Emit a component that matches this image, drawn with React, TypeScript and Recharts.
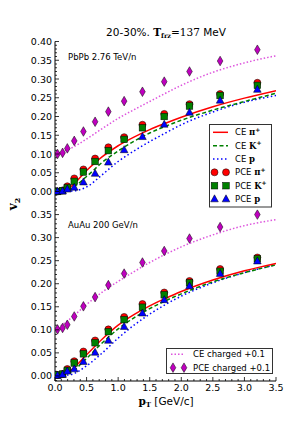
import React from 'react';
import { ComposedChart, Line, Scatter, XAxis, YAxis } from 'recharts';

// pT of the data points (same bins in both panels)
const ptPoints = [0.04, 0.12, 0.195, 0.305, 0.45, 0.635, 0.845, 1.095, 1.385, 1.73, 2.13, 2.615, 3.205];
// pT grid for the CE curves
const ptCurve = [0, 0.25, 0.5, 0.75, 1.0, 1.25, 1.5, 1.75, 2.0, 2.5, 3.0, 3.5];

// PbPb 2.76 TeV/n
const pbPionPCE = [0.0, 0.003, 0.014, 0.035, 0.059, 0.088, 0.118, 0.145, 0.178, 0.207, 0.233, 0.26, 0.29];
const pbKaonPCE = [0.0, 0.002, 0.01, 0.027, 0.052, 0.08, 0.109, 0.139, 0.17, 0.2, 0.228, 0.256, 0.283];
const pbProtonPCE = [0.0, 0.001, 0.006, 0.011, 0.025, 0.048, 0.078, 0.111, 0.146, 0.179, 0.211, 0.243, 0.272];
const pbChargedPCE = [0.1, 0.103, 0.115, 0.135, 0.16, 0.186, 0.213, 0.241, 0.266, 0.293, 0.32, 0.348, 0.378];
const pbPionCE = [0.0, 0.013, 0.056, 0.093, 0.122, 0.145, 0.165, 0.182, 0.198, 0.226, 0.249, 0.269];
const pbKaonCE = [0.0, 0.008, 0.04, 0.078, 0.108, 0.134, 0.156, 0.174, 0.19, 0.217, 0.24, 0.262];
const pbProtonCE = [0.0, 0.001, 0.012, 0.045, 0.08, 0.108, 0.133, 0.156, 0.178, 0.212, 0.238, 0.256];
const pbChargedCE = [0.1, 0.115, 0.14, 0.168, 0.195, 0.218, 0.24, 0.262, 0.283, 0.318, 0.343, 0.362];

// AuAu 200 GeV/n
const auPionPCE = [0.002, 0.004, 0.015, 0.032, 0.053, 0.077, 0.101, 0.128, 0.156, 0.181, 0.206, 0.232, 0.257];
const auKaonPCE = [0.002, 0.004, 0.012, 0.028, 0.048, 0.072, 0.096, 0.122, 0.149, 0.176, 0.202, 0.227, 0.254];
const auProtonPCE = [0.001, 0.003, 0.01, 0.015, 0.031, 0.051, 0.077, 0.107, 0.136, 0.165, 0.195, 0.222, 0.249];
const auChargedPCE = [0.101, 0.104, 0.111, 0.129, 0.151, 0.171, 0.197, 0.222, 0.246, 0.271, 0.298, 0.323, 0.35];
const auPionCE = [0.0, 0.012, 0.046, 0.08, 0.11, 0.133, 0.152, 0.168, 0.183, 0.208, 0.228, 0.244];
const auKaonCE = [0.0, 0.008, 0.038, 0.072, 0.102, 0.126, 0.146, 0.163, 0.178, 0.204, 0.224, 0.241];
const auProtonCE = [0.0, 0.003, 0.022, 0.05, 0.082, 0.11, 0.134, 0.155, 0.173, 0.202, 0.224, 0.241];
const auChargedCE = [0.1, 0.125, 0.155, 0.182, 0.205, 0.226, 0.246, 0.264, 0.28, 0.306, 0.326, 0.339];

// major tick labels
const xMajor = [0.0, 0.5, 1.0, 1.5, 2.0, 2.5, 3.0, 3.5];
const yMajorTop = [0.0, 0.05, 0.1, 0.15, 0.2, 0.25, 0.3, 0.35, 0.4];
const yMajorBottom = [0.0, 0.05, 0.1, 0.15, 0.2, 0.25, 0.3, 0.35];

const SANS = '"DejaVu Sans", sans-serif';
const SERIF = '"DejaVu Serif", serif';

const steps = (from: number, to: number, step: number) => {
  const out: number[] = [];
  for (let v = from; v <= to + 1e-9; v += step) out.push(+v.toFixed(3));
  return out;
};
const xTicks = steps(0, 3.5, 0.1);
const yTicksTop = steps(-0.04, 0.4, 0.01);
const yTicksBottom = steps(-0.01, 0.36, 0.01);

const zip = (xs: number[], ys: number[]) => xs.map((x, i) => ({ x, y: ys[i] }));
const isIn = (list: number[], v: number) => list.some((m) => Math.abs(m - v) < 1e-6);

type Side = 'bottom' | 'top' | 'left' | 'right';

const makeTick = (side: Side, major: number[], showLabels: boolean) => (props: any) => {
  const { x, y, payload } = props;
  const v = payload.value;
  const isMajor = isIn(major, v);
  const len = isMajor ? 4 : 2;
  let line;
  if (side === 'bottom') line = <line x1={x} x2={x} y1={y} y2={y - len} stroke="#000" strokeWidth={0.8} />;
  else if (side === 'top') line = <line x1={x} x2={x} y1={y} y2={y + len} stroke="#000" strokeWidth={0.8} />;
  else if (side === 'left') line = <line x1={x} x2={x + len} y1={y} y2={y} stroke="#000" strokeWidth={0.8} />;
  else line = <line x1={x} x2={x - len} y1={y} y2={y} stroke="#000" strokeWidth={0.8} />;
  let label = null;
  if (showLabels && isMajor) {
    if (side === 'bottom')
      label = (
        <text x={x} y={y + 10} textAnchor="middle" fontSize={9.5} fontFamily={SANS} fill="#000">
          {v.toFixed(1)}
        </text>
      );
    if (side === 'left')
      label = (
        <text x={x - 3} y={y + 3.5} textAnchor="end" fontSize={9.5} fontFamily={SANS} fill="#000">
          {v.toFixed(2)}
        </text>
      );
  }
  return (
    <g>
      {line}
      {label}
    </g>
  );
};

const RedCircle = (p: any) => <circle cx={p.cx} cy={p.cy} r={3.5} fill="#ff0000" stroke="#000" strokeWidth={0.5} />;
const GreenSquare = (p: any) => (
  <rect x={p.cx - 3.3} y={p.cy - 3.3} width={6.6} height={6.6} fill="#008000" stroke="#000" strokeWidth={0.5} />
);
const BlueTriangle = (p: any) => (
  <polygon
    points={`${p.cx},${p.cy - 4.2} ${p.cx + 3.8},${p.cy + 2.8} ${p.cx - 3.8},${p.cy + 2.8}`}
    fill="#0000ff"
    stroke="#000"
    strokeWidth={0.5}
  />
);
const MagentaDiamond = (p: any) => (
  <polygon
    points={`${p.cx},${p.cy - 4.8} ${p.cx + 2.8},${p.cy} ${p.cx},${p.cy + 4.8} ${p.cx - 2.8},${p.cy}`}
    fill="#bf00bf"
    stroke="#000"
    strokeWidth={0.5}
  />
);

interface PanelProps {
  pionCE: number[];
  kaonCE: number[];
  protonCE: number[];
  chargedCE: number[];
  pionPCE: number[];
  kaonPCE: number[];
  protonPCE: number[];
  chargedPCE: number[];
  domain: [number, number];
  yTicks: number[];
  yMajor: number[];
  height: number;
  marginTop: number;
  marginBottom: number;
  xAxisHeight: number;
  showXLabels: boolean;
}

function Panel(p: PanelProps) {
  return (
    <ComposedChart
      width={306}
      height={p.height}
      margin={{ top: p.marginTop, right: 30, left: 0, bottom: p.marginBottom }}
    >
      <XAxis
        xAxisId={0}
        type="number"
        dataKey="x"
        domain={[0, 3.5]}
        allowDataOverflow
        ticks={xTicks}
        interval={0}
        height={p.xAxisHeight}
        tickSize={0}
        tickMargin={0}
        tickLine={false}
        axisLine={{ stroke: '#000', strokeWidth: 1 }}
        tick={makeTick('bottom', xMajor, p.showXLabels)}
      />
      <XAxis
        xAxisId="t"
        orientation="top"
        type="number"
        dataKey="x"
        domain={[0, 3.5]}
        allowDataOverflow
        ticks={xTicks}
        interval={0}
        height={0}
        tickSize={0}
        tickMargin={0}
        tickLine={false}
        axisLine={{ stroke: '#000', strokeWidth: 1 }}
        tick={makeTick('top', xMajor, false)}
      />
      <YAxis
        yAxisId={0}
        type="number"
        dataKey="y"
        domain={p.domain}
        allowDataOverflow
        ticks={p.yTicks}
        interval={0}
        width={55}
        tickSize={0}
        tickMargin={0}
        tickLine={false}
        axisLine={{ stroke: '#000', strokeWidth: 1 }}
        tick={makeTick('left', p.yMajor, true)}
      />
      <YAxis
        yAxisId="r"
        orientation="right"
        type="number"
        dataKey="y"
        domain={p.domain}
        allowDataOverflow
        ticks={p.yTicks}
        interval={0}
        width={0}
        tickSize={0}
        tickMargin={0}
        tickLine={false}
        axisLine={{ stroke: '#000', strokeWidth: 1 }}
        tick={makeTick('right', p.yMajor, false)}
      />
      <Line data={zip(ptCurve, p.chargedCE)} dataKey="y" type="monotone" stroke="#dd55dd" strokeWidth={1.5} strokeDasharray="1.5 2" dot={false} activeDot={false} isAnimationActive={false} />
      <Line data={zip(ptCurve, p.protonCE)} dataKey="y" type="monotone" stroke="#0000ff" strokeWidth={1.5} strokeDasharray="1.5 2.5" dot={false} activeDot={false} isAnimationActive={false} />
      <Line data={zip(ptCurve, p.kaonCE)} dataKey="y" type="monotone" stroke="#008000" strokeWidth={1.5} strokeDasharray="4 2.5" dot={false} activeDot={false} isAnimationActive={false} />
      <Line data={zip(ptCurve, p.pionCE)} dataKey="y" type="monotone" stroke="#ff0000" strokeWidth={1.5} dot={false} activeDot={false} isAnimationActive={false} />
      <Scatter data={zip(ptPoints, p.chargedPCE)} dataKey="y" shape={MagentaDiamond} isAnimationActive={false} />
      <Scatter data={zip(ptPoints, p.pionPCE)} dataKey="y" shape={RedCircle} isAnimationActive={false} />
      <Scatter data={zip(ptPoints, p.kaonPCE)} dataKey="y" shape={GreenSquare} isAnimationActive={false} />
      <Scatter data={zip(ptPoints, p.protonPCE)} dataKey="y" shape={BlueTriangle} isAnimationActive={false} />
    </ComposedChart>
  );
}

function Species({ x, y, prefix, name, sup }: { x: number; y: number; prefix: string; name: string; sup?: boolean }) {
  return (
    <text x={x} y={y + 3} fontSize={8.5} fill="#000">
      <tspan fontFamily={SANS}>{prefix} </tspan>
      <tspan fontFamily={SERIF} fontWeight="bold">{name}</tspan>
      {sup ? (
        <tspan fontFamily={SERIF} fontWeight="bold" fontSize={6} dy={-3.5}>+</tspan>
      ) : null}
    </text>
  );
}

function Overlay() {
  const rows = [132.3, 145.7, 159, 172.3, 185.7, 199];
  const tx = 235;
  return (
    <svg width={306} height={423} style={{ position: 'absolute', left: 0, top: 0, pointerEvents: 'none' }}>
      <text x={166} y={36} textAnchor="middle" fontSize={10.5} fill="#000">
        <tspan fontFamily={SANS}>20-30%. </tspan>
        <tspan fontFamily={SERIF} fontWeight="bold">T</tspan>
        <tspan fontFamily={SERIF} fontWeight="bold" fontSize={6.5} dy={2}>frz</tspan>
        <tspan fontFamily={SERIF} dy={-2}>=137</tspan>
        <tspan fontFamily={SANS}> MeV</tspan>
      </text>
      <text x={68} y={60} fontSize={8.5} fontFamily={SANS} fill="#000">PbPb 2.76 TeV/n</text>
      <text x={68} y={228} fontSize={8.5} fontFamily={SANS} fill="#000">AuAu 200 GeV/n</text>
      <text transform="translate(17,204) rotate(-90)" textAnchor="middle" fontSize={12} fontFamily={SERIF} fontWeight="bold" fill="#000">
        v<tspan fontSize={8} dy={2.5}>2</tspan>
      </text>
      <text x={166} y={404.5} textAnchor="middle" fontSize={10.5} fill="#000">
        <tspan fontFamily={SERIF} fontWeight="bold">p</tspan>
        <tspan fontFamily={SERIF} fontWeight="bold" fontSize={7} dy={2}>T</tspan>
        <tspan fontFamily={SANS} dy={-2}> [GeV/c]</tspan>
      </text>

      {/* top legend */}
      <rect x={209.5} y={124.5} width={62} height={82.5} fill="#fff" stroke="#333" strokeWidth={1} />
      <line x1={213} x2={228} y1={rows[0]} y2={rows[0]} stroke="#ff0000" strokeWidth={1.5} />
      <Species x={tx} y={rows[0]} prefix="CE" name="π" sup />
      <line x1={213} x2={228} y1={rows[1]} y2={rows[1]} stroke="#008000" strokeWidth={1.5} strokeDasharray="4 2.5" />
      <Species x={tx} y={rows[1]} prefix="CE" name="K" sup />
      <line x1={213} x2={228} y1={rows[2]} y2={rows[2]} stroke="#0000ff" strokeWidth={1.5} strokeDasharray="1.5 2.5" />
      <Species x={tx} y={rows[2]} prefix="CE" name="p" />
      <RedCircle cx={214.5} cy={rows[3]} />
      <RedCircle cx={226} cy={rows[3]} />
      <Species x={tx} y={rows[3]} prefix="PCE" name="π" sup />
      <GreenSquare cx={214.5} cy={rows[4]} />
      <GreenSquare cx={226} cy={rows[4]} />
      <Species x={tx} y={rows[4]} prefix="PCE" name="K" sup />
      <BlueTriangle cx={214.5} cy={rows[5]} />
      <BlueTriangle cx={226} cy={rows[5]} />
      <Species x={tx} y={rows[5]} prefix="PCE" name="p" />

      {/* bottom legend */}
      <rect x={166.5} y={348.5} width={106} height={25} fill="#fff" stroke="#333" strokeWidth={1} />
      <line x1={171} x2={185} y1={354.3} y2={354.3} stroke="#dd55dd" strokeWidth={1.5} strokeDasharray="1.5 2" />
      <text x={193} y={357.3} fontSize={8.5} fontFamily={SANS} fill="#000">CE charged +0.1</text>
      <MagentaDiamond cx={173} cy={367.7} />
      <MagentaDiamond cx={184} cy={367.7} />
      <text x={193} y={370.7} fontSize={8.5} fontFamily={SANS} fill="#000">PCE charged +0.1</text>
    </svg>
  );
}

export default function App() {
  return (
    <div style={{ position: 'absolute', left: 0, top: 0, width: 306, height: 423, background: '#fff' }}>
      <div style={{ position: 'absolute', left: 0, top: 0 }}>
        <Panel
          pionCE={pbPionCE}
          kaonCE={pbKaonCE}
          protonCE={pbProtonCE}
          chargedCE={pbChargedCE}
          pionPCE={pbPionPCE}
          kaonPCE={pbKaonPCE}
          protonPCE={pbProtonPCE}
          chargedPCE={pbChargedPCE}
          domain={[-0.048, 0.4]}
          yTicks={yTicksTop}
          yMajor={yMajorTop}
          height={210}
          marginTop={41.5}
          marginBottom={0.5}
          xAxisHeight={0}
          showXLabels={false}
        />
      </div>
      <div style={{ position: 'absolute', left: 0, top: 200 }}>
        <Panel
          pionCE={auPionCE}
          kaonCE={auKaonCE}
          protonCE={auProtonCE}
          chargedCE={auChargedCE}
          pionPCE={auPionPCE}
          kaonPCE={auKaonPCE}
          protonPCE={auProtonPCE}
          chargedPCE={auChargedPCE}
          domain={[-0.011, 0.361]}
          yTicks={yTicksBottom}
          yMajor={yMajorBottom}
          height={223}
          marginTop={9.5}
          marginBottom={0}
          xAxisHeight={42}
          showXLabels
        />
      </div>
      <Overlay />
    </div>
  );
}
